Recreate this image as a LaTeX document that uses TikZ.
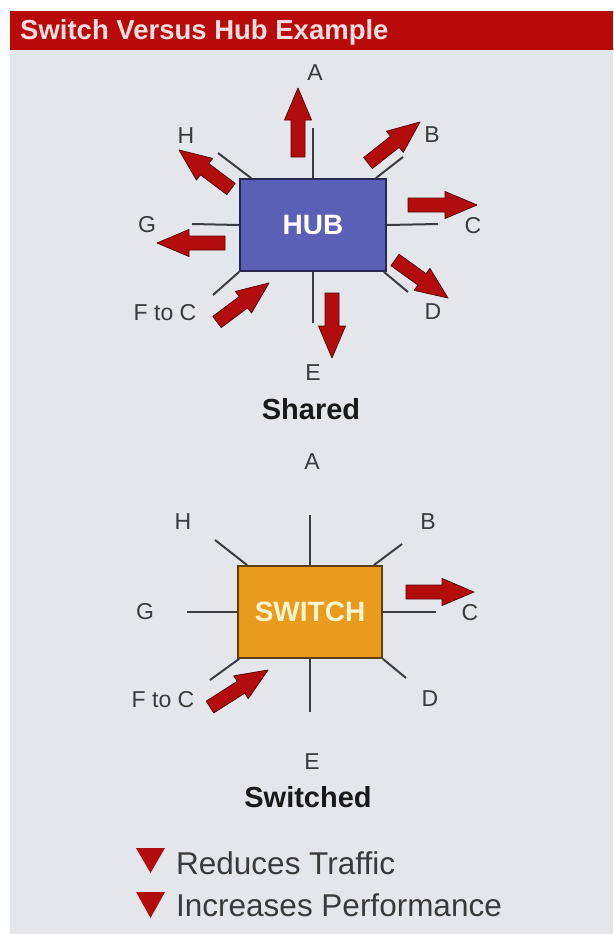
\documentclass[tikz,border=0pt]{standalone}
\usepackage{fontspec}
\setmainfont{Liberation Sans}
\usetikzlibrary{calc}
\definecolor{bgc}{HTML}{E3E7EB}
\definecolor{bannerred}{HTML}{B80A0A}
\definecolor{arrred}{HTML}{B30C0C}
\definecolor{arrdark}{HTML}{5A0505}
\definecolor{hubblue}{HTML}{5A60B6}
\definecolor{hubedge}{HTML}{262850}
\definecolor{swor}{HTML}{E89B1C}
\definecolor{swedge}{HTML}{5E3F0C}
\definecolor{labgray}{HTML}{3A3A3A}
\definecolor{linegray}{HTML}{3C3C44}
\tikzset{
  lab/.style={text=labgray, font=\fontsize{23}{26}\selectfont, inner sep=0pt},
  captext/.style={text=black!90, font=\bfseries\fontsize{29}{32}\selectfont, inner sep=0pt},
  wire/.style={draw=linegray, line width=2pt},
  arrowfill/.style={fill=arrred, draw=arrdark, line width=0.8pt, line join=round},
  hubbox/.style={draw=hubedge, line width=1.8pt, fill=hubblue, minimum width=146pt, minimum height=92pt, text=white, font=\bfseries\fontsize{28}{30}\selectfont},
  swbox/.style={draw=swedge, line width=1.8pt, fill=swor, minimum width=144pt, minimum height=92pt, text={rgb,255:red,255;green,243;blue,208}, font=\bfseries\fontsize{28}{30}\selectfont},
  legtext/.style={text=labgray, font=\fontsize{31.5}{34}\selectfont, inner sep=0pt, anchor=west}
}
\newcommand\blockarr[2]{%
  \coordinate (bS) at #1; \coordinate (bT) at #2;
  \coordinate (bH) at ($(bT)!32pt!(bS)$);
  \filldraw[arrowfill] ($(bS)!7pt!90:(bT)$) -- ($(bH)!7pt!-90:(bS)$) -- ($(bH)!13.5pt!-90:(bS)$) -- (bT) -- ($(bH)!13.5pt!90:(bS)$) -- ($(bH)!7pt!90:(bS)$) -- ($(bS)!7pt!-90:(bT)$) -- cycle;}
\begin{document}
\begin{tikzpicture}[x=1pt,y=-1pt]
\useasboundingbox (0,0) rectangle (613,934);
\fill[white] (0,0) rectangle (613,934);
\fill[bgc] (10,50) rectangle (613,934);
\fill[bannerred] (10,11) rectangle (613,50);
\node[anchor=west, inner sep=0pt, text={rgb,255:red,250;green,222;blue,222}, font=\bfseries\fontsize{27.5}{29}\selectfont] (title) at (20,32) {Switch Versus Hub Example};

% ---------------- HUB ----------------
\node[hubbox] (hub) at (313,225) {HUB};
\coordinate (hA) at (313,128);
\coordinate (hE) at (313,323);
\coordinate (hG) at (192,224);
\coordinate (hC) at (438,224);
\coordinate (hH) at (218,153);
\coordinate (hB) at (403,157);
\coordinate (hF) at (213,295);
\coordinate (hD) at (408,292);
\draw[wire] (hub.north) -- (hA);
\draw[wire] (hub.south) -- (hE);
\draw[wire] (hub.west) -- (hG);
\draw[wire] (hub.east) -- (hC);
\draw[wire] ($(hub.north west)+(12,0)$) -- (hH);
\draw[wire] ($(hub.north east)+(-11,0)$) -- (hB);
\draw[wire] (hub.south west) -- (hF);
\draw[wire] ($(hub.south east)+(-3,0)$) -- (hD);

\node[lab] (lA1) at (315,73) {A};
\node[lab] (lH1) at (186,136) {H};
\node[lab] (lB1) at (432,135) {B};
\node[lab] (lG1) at (147,225) {G};
\node[lab] (lC1) at (473,226) {C};
\node[lab] (lF1) at (165,313) {F to C};
\node[lab] (lD1) at (433,312) {D};
\node[lab] (lE1) at (313,373) {E};
\node[captext] (shared) at (311,409) {Shared};

\blockarr{(298,157)}{(298,88)}
\blockarr{(368,163)}{(420,122)}
\blockarr{(408,205)}{(477,205)}
\blockarr{(395,260)}{(448,298)}
\blockarr{(332,293)}{(332,358)}
\blockarr{(217,322)}{(269,283)}
\blockarr{(225,243)}{(157,243)}
\blockarr{(231,189)}{(179,150)}

% ---------------- SWITCH ----------------
\node[swbox] (sw) at (310,612) {SWITCH};
\coordinate (sA) at (310,515);
\coordinate (sE) at (310,712);
\coordinate (sG) at (187,612);
\coordinate (sC) at (436,612);
\coordinate (sH) at (215,540);
\coordinate (sB) at (402,544);
\coordinate (sF) at (210,680);
\coordinate (sD) at (406,678);
\draw[wire] (sw.north) -- (sA);
\draw[wire] (sw.south) -- (sE);
\draw[wire] (sw.west) -- (sG);
\draw[wire] (sw.east) -- (sC);
\draw[wire] ($(sw.north west)+(10,0)$) -- (sH);
\draw[wire] ($(sw.north east)+(-9,0)$) -- (sB);
\draw[wire] ($(sw.south west)+(2,0)$) -- (sF);
\draw[wire] (sw.south east) -- (sD);

\node[lab] (lA2) at (312,462) {A};
\node[lab] (lH2) at (183,522) {H};
\node[lab] (lB2) at (428,522) {B};
\node[lab] (lG2) at (145,612) {G};
\node[lab] (lC2) at (470,613) {C};
\node[lab] (lF2) at (163,700) {F to C};
\node[lab] (lD2) at (430,699) {D};
\node[lab] (lE2) at (312,762) {E};
\node[captext] (switched) at (308,797) {Switched};

\blockarr{(406,592)}{(474,592)}
\blockarr{(210,707)}{(268,670)}

% ---------------- Legend ----------------
\fill[arrred] (136,848) -- (165,848) -- (150.5,873) -- cycle;
\fill[arrred] (136,892) -- (165,892) -- (150.5,918) -- cycle;
\node[legtext] (leg1) at (176,863) {Reduces Traffic};
\node[legtext] (leg2) at (176,905) {Increases Performance};
\end{tikzpicture}
\end{document}
